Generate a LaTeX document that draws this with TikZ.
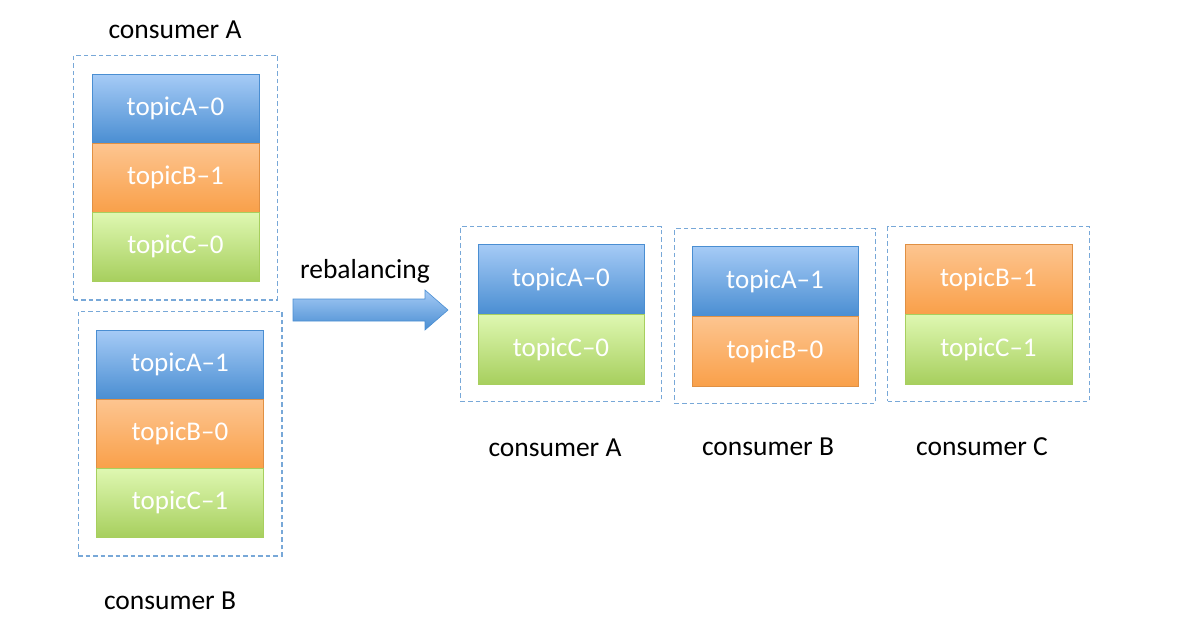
\documentclass[tikz,border=0pt]{standalone}
\usepackage{fontspec}
\setmainfont{Carlito}
\usetikzlibrary{fit}

\definecolor{bluetop}{HTML}{A6CBF6}
\definecolor{bluebot}{HTML}{4A8ED2}
\definecolor{orangetop}{HTML}{FDC590}
\definecolor{orangebot}{HTML}{F9A04A}
\definecolor{greentop}{HTML}{DFF8B2}
\definecolor{greenbot}{HTML}{A7CF5E}
\definecolor{dashblue}{HTML}{78A8D8}

\begin{document}
\begin{tikzpicture}[x=1pt,y=-1pt,
  part/.style={minimum width=167pt,minimum height=69pt,inner sep=0pt,
    text=white,font=\fontsize{27}{30}\selectfont,line width=0.6pt},
  partA/.style={part,top color=bluetop,bottom color=bluebot,draw=bluebot},
  partB/.style={part,top color=orangetop,bottom color=orangebot,draw=orangebot!90!black},
  partC/.style={part,top color=greentop,bottom color=greenbot,draw=greenbot},
  group/.style={draw=dashblue,line width=1.4pt,dash pattern=on 4.5pt off 3pt,inner sep=17pt},
  label/.style={font=\fontsize{27.5}{31}\selectfont,text=black}]
\useasboundingbox (0,0) rectangle (1183,630);

% before rebalancing
\node[partA] (a0) at (175.5,108.5) {topicA--0};
\node[partB] (b1) at (175.5,177.5) {topicB--1};
\node[partC] (c0) at (175.5,246.5) {topicC--0};
\node[group,fit=(a0)(c0),inner xsep=18pt,inner ysep=18.5pt] (grpA) {};
\node[label] (lblA) at (175,30) {consumer A};

\node[partA] (a1) at (180,364.5) {topicA--1};
\node[partB] (b0) at (180,433.5) {topicB--0};
\node[partC] (c1) at (180,502.5) {topicC--1};
\node[group,fit=(a1)(c1),inner xsep=18pt,inner ysep=18.5pt] (grpB) {};
\node[label] (lblB) at (170,601) {consumer B};

% arrow
\draw[top color=bluetop,bottom color=bluebot,draw=bluebot,line width=0.6pt]
  (293,299) -- (425,299) -- (425,290) -- (448,310) -- (425,330) -- (425,321) -- (293,321) -- cycle;
\node[label] (rebal) at (365,271) {rebalancing};

% after rebalancing
\node[partA,minimum width=166pt,minimum height=70pt] (na0) at (561,279) {topicA--0};
\node[partC,minimum width=166pt,minimum height=70pt] (nc0) at (561,349) {topicC--0};
\node[group,fit=(na0)(nc0)] (ngrpA) {};
\node[label] (nlblA) at (555,448) {consumer A};

\node[partA,minimum width=166pt,minimum height=70pt] (na1) at (775,281) {topicA--1};
\node[partB,minimum width=166pt,minimum height=70pt] (nb0) at (775,351) {topicB--0};
\node[group,fit=(na1)(nb0)] (ngrpB) {};
\node[label] (nlblB) at (768,447) {consumer B};

\node[partB,minimum width=167pt,minimum height=70pt] (nb1) at (988.5,279) {topicB--1};
\node[partC,minimum width=167pt,minimum height=70pt] (nc1) at (988.5,349) {topicC--1};
\node[group,fit=(nb1)(nc1)] (ngrpC) {};
\node[label] (nlblC) at (982,447) {consumer C};

\end{tikzpicture}
\end{document}
